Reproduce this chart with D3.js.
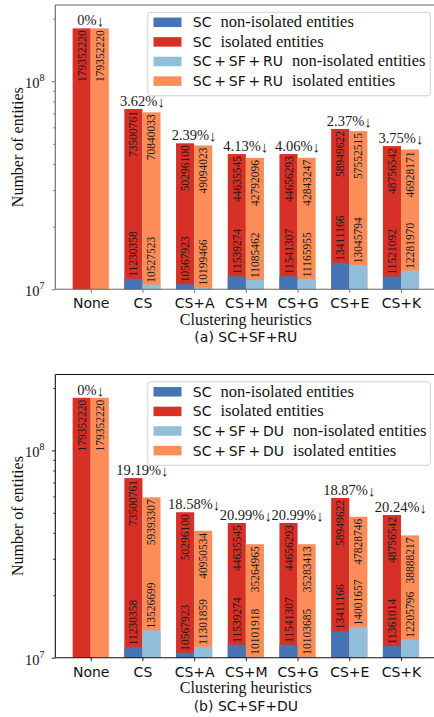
<!DOCTYPE html>
<html>
<head>
<meta charset="utf-8">
<script src="https://cdn.jsdelivr.net/npm/d3@7"></script>
<style>
  html, body { margin: 0; padding: 0; background: #fff; }
  svg { display: block; }
</style>
</head>
<body>
<svg id="chart" width="434" height="717"></svg>
<script>
// Clustering heuristics on the x axis
const categories = ["None", "CS", "CS+A", "CS+M", "CS+G", "CS+E", "CS+K"];

// SC baseline (shared by both panels, except one non-isolated value)
const scIsolated = [179352220, 73500761, 50296100, 44635545, 44656293, 58949622, 48756542];
const scNonIsolatedA = [null, 11230358, 10567923, 11539274, 11541307, 13411166, 11521092];
const scNonIsolatedB = [null, 11230358, 10567923, 11539274, 11541307, 13411166, 11361014];

// SC + SF + RU
const ruIsolated = [179352220, 70840033, 49094023, 42792096, 42843247, 57552515, 46928171];
const ruNonIsolated = [null, 10527523, 10199466, 11085462, 11165955, 13045794, 12281970];
const ruDrop = ["0%", "3.62%", "2.39%", "4.13%", "4.06%", "2.37%", "3.75%"];

// SC + SF + DU
const duIsolated = [179352220, 59393307, 40950534, 35264965, 35283413, 47828746, 38888217];
const duNonIsolated = [null, 13526699, 11301859, 10101918, 10103685, 14001657, 12205796];
const duDrop = ["0%", "19.19%", "18.58%", "20.99%", "20.99%", "18.87%", "20.24%"];

// Log axis decades and minor ticks
const majorTicks = [1e7, 1e8];
const minorTicks = [2e7, 3e7, 4e7, 5e7, 6e7, 7e7, 8e7, 9e7, 2e8];

const COLORS = { scNon: "#4575b4", scIso: "#d73027", altNon: "#91bfdb", altIso: "#fc8d59" };
const SERIF = "'Liberation Serif', 'Times New Roman', serif";
const SANS = "'DejaVu Sans', Verdana, sans-serif";
const SPACE = "\u2009+\u2009";

const svg = d3.select("#chart");
svg.append("rect").attr("width", 434).attr("height", 717).attr("fill", "#fff");

function drawPanel(cfg) {
  const { top, bottom, spine, scNon, altIso, altNon, drop, variant, caption } = cfg;
  const g = svg.append("g");

  const x = d3.scaleLinear().domain([-0.685, 6.685]).range([55.3, 436.4]);
  const y = d3.scaleLog().domain([1e7, Math.pow(10, 8.366)]).range([bottom, top]);
  const bw = x(0.35) - x(0);

  const rows = categories.map((c, i) => ({
    c, i,
    scIso: scIsolated[i], scNon: scNon[i],
    altIso: altIso[i], altNon: altNon[i],
    drop: drop[i]
  }));

  // Isolated bars (full height), then non-isolated bars drawn over them
  const bars = [
    { key: "scIso", dx: -1, color: COLORS.scIso },
    { key: "altIso", dx: 0, color: COLORS.altIso },
    { key: "scNon", dx: -1, color: COLORS.scNon },
    { key: "altNon", dx: 0, color: COLORS.altNon }
  ];
  bars.forEach(b => {
    g.append("g").selectAll("rect")
      .data(rows.filter(d => d[b.key] != null))
      .join("rect")
      .attr("x", d => x(d.i) + b.dx * bw)
      .attr("width", bw)
      .attr("y", d => y(d[b.key]))
      .attr("height", d => bottom - y(d[b.key]))
      .attr("fill", b.color);
  });

  // Value labels, rotated inside the bars
  const labels = g.append("g")
    .attr("font-family", SERIF)
    .attr("font-size", 11.5)
    .attr("fill", "#1a1a1a");
  [
    { key: "scIso", dx: -0.5, anchor: "end", off: 2 },
    { key: "altIso", dx: 0.5, anchor: "end", off: 2 },
    { key: "scNon", dx: -0.5, anchor: "start", off: -2 },
    { key: "altNon", dx: 0.5, anchor: "start", off: -2 }
  ].forEach(l => {
    labels.append("g").selectAll("text")
      .data(rows.filter(d => d[l.key] != null))
      .join("text")
      .attr("transform", d => `translate(${x(d.i) + l.dx * bw},${y(d[l.key]) + l.off}) rotate(-90)`)
      .attr("text-anchor", l.anchor)
      .attr("dominant-baseline", "central")
      .text(d => d[l.key]);
  });

  // Percentage drop above each group
  const pct = g.append("g").selectAll("text")
    .data(rows)
    .join("text")
    .attr("x", d => x(d.i))
    .attr("y", d => y(Math.max(d.scIso, d.altIso)) - 3)
    .attr("text-anchor", "middle")
    .attr("font-family", SERIF)
    .attr("font-size", 14.5)
    .attr("fill", "#1a1a1a");
  pct.append("tspan").text(d => d.drop);
  pct.append("tspan").attr("font-size", 15).attr("dy", 1).text("\u2193");

  // Spines
  const sp = g.append("g").attr("stroke", spine).attr("stroke-width", 1.1).attr("fill", "none");
  sp.append("line").attr("x1", x.range()[0]).attr("x2", x.range()[0]).attr("y1", top).attr("y2", bottom);
  sp.append("line").attr("x1", x.range()[0]).attr("x2", x.range()[1]).attr("y1", top).attr("y2", top);
  sp.append("line").attr("x1", x.range()[0]).attr("x2", x.range()[1]).attr("y1", bottom).attr("y2", bottom);

  // Left axis: major and minor ticks
  const yMajor = g.append("g").attr("transform", `translate(${x.range()[0]},0)`)
    .call(d3.axisLeft(y).tickValues(majorTicks).tickSize(3.5).tickFormat(() => ""));
  const yMinor = g.append("g").attr("transform", `translate(${x.range()[0]},0)`)
    .call(d3.axisLeft(y).tickValues(minorTicks).tickSize(2).tickFormat(() => ""));
  [yMajor, yMinor].forEach(a => {
    a.select(".domain").remove();
    a.selectAll("line").attr("stroke", spine).attr("stroke-width", 0.9);
  });
  const yl = g.append("g").attr("font-family", SERIF).attr("fill", "#111");
  majorTicks.forEach(v => {
    const t = yl.append("text")
      .attr("x", 44.5).attr("y", y(v) + 6.8)
      .attr("text-anchor", "end")
      .attr("font-size", 14.5);
    t.append("tspan").text("10");
    t.append("tspan").attr("dy", -7).attr("font-size", 10).text(String(Math.round(Math.log10(v))));
  });

  // Bottom axis
  const xa = g.append("g").attr("transform", `translate(0,${bottom})`)
    .call(d3.axisBottom(x).tickValues(d3.range(categories.length)).tickSize(3.5)
      .tickFormat(i => categories[i]));
  xa.select(".domain").remove();
  xa.selectAll("line").attr("stroke", spine).attr("stroke-width", 0.9);
  xa.selectAll("text")
    .attr("y", 19).attr("dy", null)
    .attr("font-family", SANS).attr("font-size", 14).attr("fill", "#111");

  // Axis titles and caption
  g.append("text")
    .attr("transform", `translate(23.3,${(top + bottom) / 2}) rotate(-90)`)
    .attr("text-anchor", "middle")
    .attr("font-family", SERIF).attr("font-size", 16).attr("fill", "#111")
    .text("Number of entities");
  g.append("text")
    .attr("x", x(3)).attr("y", bottom + 35.5)
    .attr("text-anchor", "middle")
    .attr("font-family", SERIF).attr("font-size", 16).attr("fill", "#111")
    .text("Clustering heuristics");
  g.append("text")
    .attr("x", x(3)).attr("y", bottom + 53)
    .attr("text-anchor", "middle")
    .attr("font-family", SANS).attr("font-size", 14).attr("fill", "#111")
    .text(caption);

  // Legend
  const lg = g.append("g").attr("transform", `translate(147.8,${top + 7.3})`);
  lg.append("rect")
    .attr("width", 282.5).attr("height", 83.5).attr("rx", 2.5)
    .attr("fill", "#fff").attr("fill-opacity", 0.8)
    .attr("stroke", "#d0d0d0").attr("stroke-width", 1);
  const prefix = ["SC", "SF", variant].join(SPACE);
  const entries = [
    { color: COLORS.scNon, tag: "SC", text: "non-isolated entities" },
    { color: COLORS.scIso, tag: "SC", text: "isolated entities" },
    { color: COLORS.altNon, tag: prefix, text: "non-isolated entities" },
    { color: COLORS.altIso, tag: prefix, text: "isolated entities" }
  ];
  entries.forEach((e, k) => {
    const cy = 10 + k * 19.6;
    lg.append("rect").attr("x", 5.7).attr("y", cy - 4.75).attr("width", 28).attr("height", 9.5).attr("fill", e.color);
    const t = lg.append("text").attr("x", 45).attr("y", cy + 5).attr("fill", "#111");
    t.append("tspan").attr("font-family", SANS).attr("font-size", 14).text(e.tag);
    t.append("tspan").attr("dx", 9).attr("font-family", SERIF).attr("font-size", 16.5).text(e.text);
  });
}

drawPanel({
  top: 5, bottom: 289.3, spine: "#666",
  scNon: scNonIsolatedA, altIso: ruIsolated, altNon: ruNonIsolated,
  drop: ruDrop, variant: "RU", caption: "(a) SC+SF+RU"
});
drawPanel({
  top: 374.5, bottom: 657.7, spine: "#111",
  scNon: scNonIsolatedB, altIso: duIsolated, altNon: duNonIsolated,
  drop: duDrop, variant: "DU", caption: "(b) SC+SF+DU"
});
</script>
</body>
</html>
